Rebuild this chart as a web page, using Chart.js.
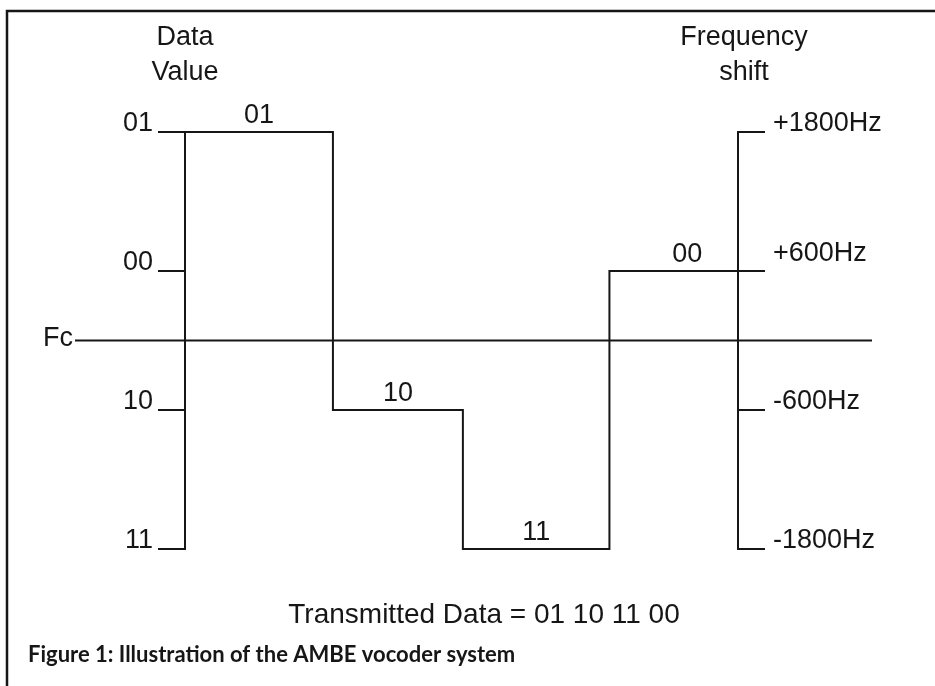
<!DOCTYPE html>
<html>
<head>
<meta charset="utf-8">
<title>AMBE vocoder</title>
<script src="https://cdn.jsdelivr.net/npm/chart.js@4/dist/chart.umd.min.js"></script>
<style>
  html, body { margin: 0; padding: 0; background: #fff; }
  canvas { display: block; }
</style>
</head>
<body>
<canvas id="chart" width="935" height="686"></canvas>
<script>
'use strict';

// symbols sent, in order
var symbols = ['01', '10', '11', '00'];
// frequency shift (Hz) for each symbol
var shifts = [1800, -600, -1800, 600];
// where each symbol starts / ends on the time axis
var bounds = [0, 1.07, 2.01, 3.07, 4];
// tick values and the two sets of tick labels
var tickValues = [-1800, -600, 600, 1800];
var dataLabels = ['11', '10', '00', '01'];
var freqLabels = ['-1800Hz', '-600Hz', '+600Hz', '+1800Hz'];

var ink = '#161616';
var tickLen = 27;
var fontSize = 27;

// step points: one per boundary, last one keeps the final level
var points = bounds.map(function(b, i) {
  return {x: b, y: shifts[Math.min(i, shifts.length - 1)]};
});

function fixedTicks(scale) {
  scale.ticks = tickValues.map(function(v) { return {value: v}; });
}

function labelFor(list) {
  return function(value) {
    var i = tickValues.indexOf(value);
    return i < 0 ? '' : list[i];
  };
}

var decor = {
  id: 'decor',
  afterDraw: function(chart) {
    var ctx = chart.ctx;
    var area = chart.chartArea;
    var x = chart.scales.x;
    var y = chart.scales.y;
    ctx.save();
    ctx.strokeStyle = ink;
    ctx.fillStyle = ink;

    // figure frame, only left and top edges show
    ctx.lineWidth = 2.5;
    ctx.beginPath();
    ctx.moveTo(7, 686);
    ctx.lineTo(7, 11);
    ctx.lineTo(935, 11);
    ctx.stroke();

    // carrier line at zero shift
    var fc = y.getPixelForValue(0);
    ctx.lineWidth = 2;
    ctx.beginPath();
    ctx.moveTo(75, fc);
    ctx.lineTo(872, fc);
    ctx.stroke();

    ctx.font = fontSize + 'px "Liberation Sans"';
    ctx.textAlign = 'right';
    ctx.textBaseline = 'middle';
    ctx.fillText('Fc', 73, fc - 2);

    // axis headings
    ctx.textAlign = 'center';
    ctx.textBaseline = 'alphabetic';
    ctx.fillText('Data', area.left, 45);
    ctx.fillText('Value', area.left, 80);
    ctx.fillText('Frequency', area.right + 6, 45);
    ctx.fillText('shift', area.right + 6, 80);

    // symbol above each step
    symbols.forEach(function(s, i) {
      var x0 = x.getPixelForValue(bounds[i]);
      var x1 = i === symbols.length - 1 ? area.right + tickLen : x.getPixelForValue(bounds[i + 1]);
      ctx.fillText(s, (x0 + x1) / 2, y.getPixelForValue(shifts[i]) - 9);
    });

    ctx.font = '28px "Liberation Sans"';
    ctx.fillText('Transmitted Data = ' + symbols.join(' '), 484, 623);

    // caption, sized to span the same width as the original
    var caption = 'Figure 1: Illustration of the AMBE vocoder system';
    ctx.font = 'bold 20px Lato';
    var size = 20 * 487 / ctx.measureText(caption).width;
    ctx.font = 'bold ' + size.toFixed(1) + 'px Lato';
    ctx.textAlign = 'left';
    ctx.fillText(caption, 28, 662);
    ctx.restore();
  }
};

Chart.defaults.font.family = '"Liberation Sans", Arial, sans-serif';
Chart.defaults.font.size = fontSize;
Chart.defaults.color = ink;

new Chart(document.getElementById('chart'), {
  type: 'line',
  data: {
    datasets: [{
      data: points,
      stepped: 'before',
      borderColor: ink,
      borderWidth: 2,
      pointRadius: 0,
      fill: false,
      clip: false
    }]
  },
  options: {
    responsive: false,
    animation: false,
    layout: {padding: {left: 0, right: 0, top: 132, bottom: 137}},
    plugins: {legend: {display: false}, tooltip: {enabled: false}},
    scales: {
      x: {type: 'linear', min: 0, max: 4, display: false},
      y: {
        position: 'left',
        min: -1800,
        max: 1800,
        afterBuildTicks: fixedTicks,
        afterFit: function(scale) { scale.width = 185; },
        border: {display: true, color: ink, width: 2},
        grid: {drawOnChartArea: false, drawTicks: true, tickLength: tickLen, color: ink, lineWidth: 2},
        ticks: {padding: 5, labelOffset: -8, callback: labelFor(dataLabels)}
      },
      y1: {
        position: 'right',
        min: -1800,
        max: 1800,
        afterBuildTicks: fixedTicks,
        afterFit: function(scale) { scale.width = 935 - 738; },
        border: {display: true, color: ink, width: 2},
        grid: {drawOnChartArea: false, drawTicks: true, tickLength: tickLen, color: ink, lineWidth: 2},
        ticks: {
          padding: 8,
          labelOffset: -8,
          // the +600Hz label sits a little higher in the original
          font: function(c) {
            return c.tick && c.tick.value === 600 ? {size: fontSize, lineHeight: 0.7} : {size: fontSize};
          },
          callback: function(value) {
            var text = labelFor(freqLabels)(value);
            return value === 600 ? [text, ''] : text;
          }
        }
      }
    }
  },
  plugins: [decor]
});
</script>
</body>
</html>
